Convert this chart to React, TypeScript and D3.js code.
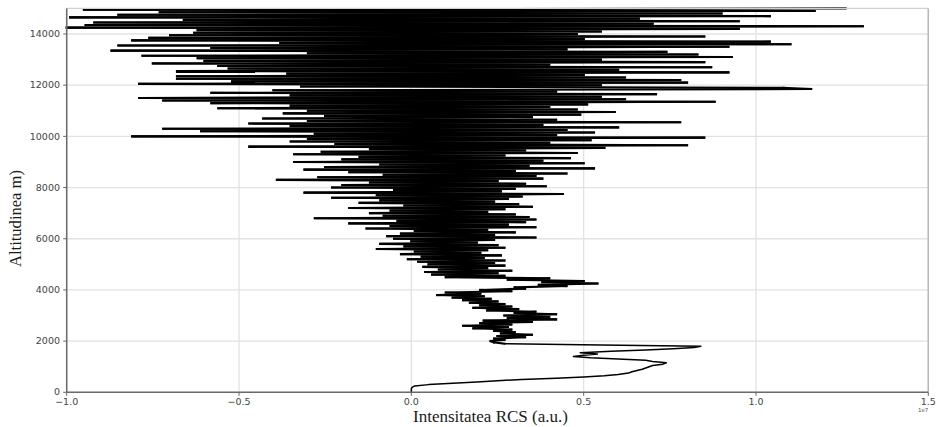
import React, { useEffect, useRef } from "react";
import * as d3 from "d3";

// Range-bin size of the lidar profile (m)
const binSize = 50;

// RCS (x 1e7 a.u.) from 0 m to 1950 m
const rcsLow = [
  0, 0, 0, 0, 0.003, 0.01, 0.05, 0.12, 0.19, 0.25,
  0.32, 0.42, 0.5, 0.56, 0.6, 0.63, 0.64, 0.655, 0.67, 0.68,
  0.69, 0.7, 0.73, 0.74, 0.7, 0.68, 0.6, 0.52, 0.47, 0.5,
  0.54, 0.49, 0.58, 0.68, 0.76, 0.82, 0.84, 0.55, 0.27, 0.24,
];

// RCS from 2000 m to 4450 m
const rcsMid = [
  0.23, 0.27, 0.24, 0.33, 0.25, 0.35, 0.26, 0.3, 0.24, 0.29,
  0.18, 0.28, 0.15, 0.29, 0.2, 0.35, 0.21, 0.42, 0.28, 0.4,
  0.27, 0.42, 0.3, 0.36, 0.22, 0.31, 0.18, 0.29, 0.2, 0.27,
  0.17, 0.25, 0.15, 0.23, 0.12, 0.21, 0.075, 0.2, 0.1, 0.29,
  0.2, 0.33, 0.3, 0.45, 0.37, 0.54, 0.38, 0.5, 0.28, 0.4,
];

// RCS from 4500 m to 15000 m
const rcsHigh = [
  0.1, 0.27, 0.06, 0.25, 0.04, 0.29, 0.08, 0.22, 0.035, 0.27,
  0.05, 0.24, 0.02, 0.27, -0.01, 0.21, 0.03, 0.26, -0.03, 0.2,
  0.01, 0.22, -0.1, 0.27, -0.02, 0.25, -0.09, 0.19, 0.0, 0.24,
  -0.05, 0.36, -0.07, 0.24, -0.03, 0.3, 0.01, 0.22, -0.13, 0.36,
  -0.06, 0.28, -0.18, 0.33, -0.04, 0.36, -0.28, 0.34, -0.08, 0.3,
  -0.12, 0.22, -0.06, 0.27, -0.18, 0.35, -0.02, 0.31, -0.15, 0.24,
  -0.09, 0.28, -0.23, 0.32, -0.1, 0.44, -0.31, 0.26, -0.05, 0.3,
  -0.23, 0.39, -0.2, 0.33, -0.12, 0.25, -0.39, 0.38, -0.27, 0.36,
  -0.08, 0.45, -0.18, 0.3, -0.31, 0.53, -0.25, 0.34, -0.09, 0.5,
  -0.34, 0.38, -0.2, 0.46, -0.15, 0.27, -0.34, 0.48, -0.26, 0.33,
  -0.12, 0.56, -0.47, 0.8, -0.22, 0.4, -0.35, 0.52, -0.3, 0.85,
  -0.81, 0.42, -0.28, 0.53, -0.61, 0.45, -0.72, 0.6, -0.35, 0.38,
  -0.47, 0.78, -0.3, 0.42, -0.43, 0.35, -0.25, 0.49, -0.37, 0.59,
  -0.3, 0.48, -0.56, 0.4, -0.35, 0.51, -0.58, 0.88, -0.72, 0.62,
  -0.79, 0.55, -0.35, 0.71, -0.58, 0.42, -0.4, 1.16, 1.08, -0.32,
  0.55, -0.79, 0.8, -0.52, 0.78, -0.68, 0.62, -0.68, 0.5, -0.36,
  0.92, -0.68, 0.6, -0.53, 0.87, -0.56, 0.4, -0.75, 0.85, -0.6,
  0.55, -0.62, 0.93, -0.78, 0.83, -0.3, 0.74, -0.87, 0.45, -0.58,
  0.92, -0.85, 1.1, -0.38, 1.04, -0.81, 0.5, -0.76, 0.85, -0.7,
  0.48, -0.63, 0.55, -0.62, 0.95, -1.0, 1.31, -0.945, 0.7, -0.92,
  0.95, -0.66, 0.66, -0.99, 1.04, -0.85, 0.9, -0.73, 1.17, -0.95,
  1.26,
];

const xTicks = [-1.0, -0.5, 0.0, 0.5, 1.0, 1.5];
const yTicks = [0, 2000, 4000, 6000, 8000, 10000, 12000, 14000];
const xLabel = "Intensitatea RCS (a.u.)";
const yLabel = "Altitudinea m)";
const xOffsetLabel = "1e7";

const W = 938;
const H = 427;
const M = { left: 66.7, right: 928.3, top: 8.4, bottom: 392.3 };

type Pt = { alt: number; v: number };

export default function App() {
  const ref = useRef<SVGSVGElement | null>(null);

  useEffect(() => {
    const svg = d3.select(ref.current);
    svg.selectAll("*").remove();

    const rcs = [...rcsLow, ...rcsMid, ...rcsHigh];
    const data: Pt[] = rcs.map((v, i) => ({ alt: i * binSize, v }));
    const split = rcsLow.length - 2;
    const lowPart = data.slice(0, split + 1);

    // the noisy part is drawn as short overlapping pieces (one per segment)
    const pieces: Pt[][] = [];
    for (let i = split; i < data.length - 1; i++) {
      pieces.push([data[i], data[i + 1]]);
    }

    const x = d3.scaleLinear().domain([-1.0, 1.5]).range([M.left, M.right]);
    const y = d3.scaleLinear().domain([0, 15000]).range([M.bottom, M.top]);

    const g = svg.append("g");

    // grid
    g.selectAll(".gx")
      .data(xTicks)
      .join("line")
      .attr("x1", (d) => x(d))
      .attr("x2", (d) => x(d))
      .attr("y1", M.top)
      .attr("y2", M.bottom)
      .attr("stroke", "#e2e2e2")
      .attr("stroke-width", 1.3);
    g.selectAll(".gy")
      .data(yTicks)
      .join("line")
      .attr("x1", M.left)
      .attr("x2", M.right)
      .attr("y1", (d) => y(d))
      .attr("y2", (d) => y(d))
      .attr("stroke", "#e2e2e2")
      .attr("stroke-width", 1.3);

    // profile
    const line = d3
      .line<Pt>()
      .x((d) => x(d.v))
      .y((d) => y(d.alt));
    g.append("path")
      .datum(lowPart)
      .attr("d", line)
      .attr("fill", "none")
      .attr("stroke", "#000")
      .attr("stroke-width", 1.5)
      .attr("stroke-linejoin", "round");
    g.append("g")
      .selectAll("path")
      .data(pieces)
      .join("path")
      .attr("d", (d) => line(d))
      .attr("fill", "none")
      .attr("stroke", "#000")
      .attr("stroke-width", 2.1)
      .attr("stroke-linecap", "square");

    // spines
    g.append("line")
      .attr("x1", M.left).attr("x2", M.right)
      .attr("y1", M.top).attr("y2", M.top)
      .attr("stroke", "#d0d0d0").attr("stroke-width", 1.2);
    g.append("line")
      .attr("x1", M.right).attr("x2", M.right)
      .attr("y1", M.top).attr("y2", M.bottom)
      .attr("stroke", "#b8b8b8").attr("stroke-width", 1.5);
    g.append("line")
      .attr("x1", M.left).attr("x2", M.left)
      .attr("y1", M.top).attr("y2", M.bottom)
      .attr("stroke", "#6a6a6a").attr("stroke-width", 1.5);
    g.append("line")
      .attr("x1", M.left).attr("x2", M.right)
      .attr("y1", M.bottom).attr("y2", M.bottom)
      .attr("stroke", "#6a6a6a").attr("stroke-width", 1.5);

    // ticks
    const fmtX = (d: number) => d.toFixed(1).replace("-", "\u2212");
    g.selectAll(".tx")
      .data(xTicks)
      .join("line")
      .attr("x1", (d) => x(d)).attr("x2", (d) => x(d))
      .attr("y1", M.bottom).attr("y2", M.bottom + 3.5)
      .attr("stroke", "#666").attr("stroke-width", 1);
    g.selectAll(".lx")
      .data(xTicks)
      .join("text")
      .attr("x", (d) => x(d))
      .attr("y", 404.5)
      .attr("text-anchor", "middle")
      .attr("font-family", "DejaVu Sans")
      .attr("font-size", 9.5)
      .attr("fill", "#444")
      .text(fmtX);

    g.selectAll(".ty")
      .data(yTicks)
      .join("line")
      .attr("x1", M.left - 3.5).attr("x2", M.left)
      .attr("y1", (d) => y(d)).attr("y2", (d) => y(d))
      .attr("stroke", "#666").attr("stroke-width", 1);
    g.selectAll(".ly")
      .data(yTicks)
      .join("text")
      .attr("x", 60)
      .attr("y", (d) => y(d))
      .attr("dy", "0.33em")
      .attr("text-anchor", "end")
      .attr("font-family", "DejaVu Sans")
      .attr("font-size", 9.5)
      .attr("fill", "#444")
      .text((d) => String(d));

    g.append("text")
      .attr("x", M.right)
      .attr("y", 412)
      .attr("text-anchor", "end")
      .attr("font-family", "DejaVu Sans")
      .attr("font-size", 5.5)
      .attr("fill", "#555")
      .text(xOffsetLabel);

    // axis labels
    g.append("text")
      .attr("x", 490.5)
      .attr("y", 422)
      .attr("text-anchor", "middle")
      .attr("font-family", "Liberation Serif")
      .attr("font-size", 16)
      .attr("fill", "#1a1a1a")
      .attr("textLength", 155)
      .attr("lengthAdjust", "spacingAndGlyphs")
      .text(xLabel);

    g.append("text")
      .attr("transform", `translate(21,218.5) rotate(-90)`)
      .attr("text-anchor", "middle")
      .attr("font-family", "Liberation Serif")
      .attr("font-size", 16)
      .attr("fill", "#1a1a1a")
      .attr("textLength", 97)
      .attr("lengthAdjust", "spacingAndGlyphs")
      .text(yLabel);
  }, []);

  return (
    <svg
      ref={ref}
      width={W}
      height={H}
      style={{ position: "absolute", left: 0, top: 0, background: "#fff" }}
    />
  );
}
